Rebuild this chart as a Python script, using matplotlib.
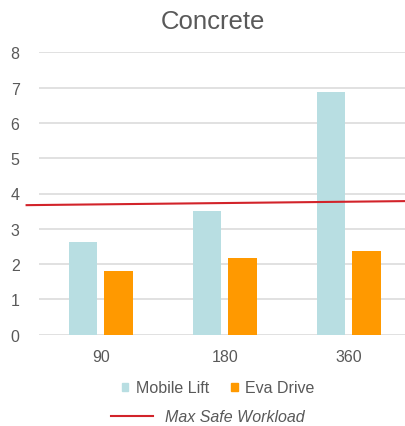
import matplotlib
matplotlib.use("Agg")
import matplotlib.pyplot as plt
from matplotlib.lines import Line2D
from matplotlib.patches import Patch
import numpy as np

plt.rcParams["font.family"] = ["Liberation Sans", "DejaVu Sans"]

categories = ["90", "180", "360"]
mobile_lift = [2.64, 3.51, 6.87]
eva_drive = [1.81, 2.17, 2.38]
# max safe workload line, drawn slightly sloped in the original
safe_x = [-0.6, 2.6]
safe_y = [3.67, 3.79]

TEXT = "#595959"
GRID = "#d9d9d9"
C_MOBILE = "#b8dee2"
C_EVA = "#ff9900"
C_SAFE = "#d2232a"

W, H = 405, 427
fig = plt.figure(figsize=(W / 100, H / 100), dpi=100)
ax = fig.add_axes([39 / W, 1 - 335.7 / H, 372 / W, 282.4 / H])

x = np.arange(len(categories))
bw = 0.23
ax.bar(x - 0.145, mobile_lift, bw, color=C_MOBILE, zorder=2)
ax.bar(x + 0.14, eva_drive, bw, color=C_EVA, zorder=2)
ax.plot(safe_x, safe_y, color=C_SAFE, lw=1.5, zorder=3, clip_on=False)

ax.set_xlim(-0.5, 2.5)
ax.set_ylim(0, 8)
ax.set_yticks(range(0, 9))
ax.set_xticks(x, categories)
ax.grid(axis="y", color=GRID, lw=1.1, zorder=0)
for s in ax.spines.values():
    s.set_visible(False)
ax.tick_params(length=0, labelsize=11.5, labelcolor=TEXT)
ax.tick_params(axis="y", pad=14)
ax.tick_params(axis="x", pad=10)

fig.text(213 / W, 1 - 22 / H, "Concrete", ha="center", va="center",
         fontsize=18.5, color=TEXT)

h1 = [Patch(color=C_MOBILE, label="Mobile Lift"), Patch(color=C_EVA, label="Eva Drive")]
fig.legend(handles=h1, loc="center", bbox_to_anchor=(218 / W, 1 - 389 / H),
           ncol=2, frameon=False, fontsize=11.5, handlelength=0.42,
           handleheight=0.42, handletextpad=0.45, columnspacing=1.4,
           labelcolor=TEXT)
h2 = [Line2D([], [], color=C_SAFE, lw=1.5, label="Max Safe Workload")]
fig.legend(handles=h2, loc="center", bbox_to_anchor=(208 / W, 1 - 418 / H),
           frameon=False, handlelength=2.6, handletextpad=0.8,
           prop={"style": "italic", "size": 11.5}, labelcolor=TEXT)

fig.savefig("out.png", dpi=100)
